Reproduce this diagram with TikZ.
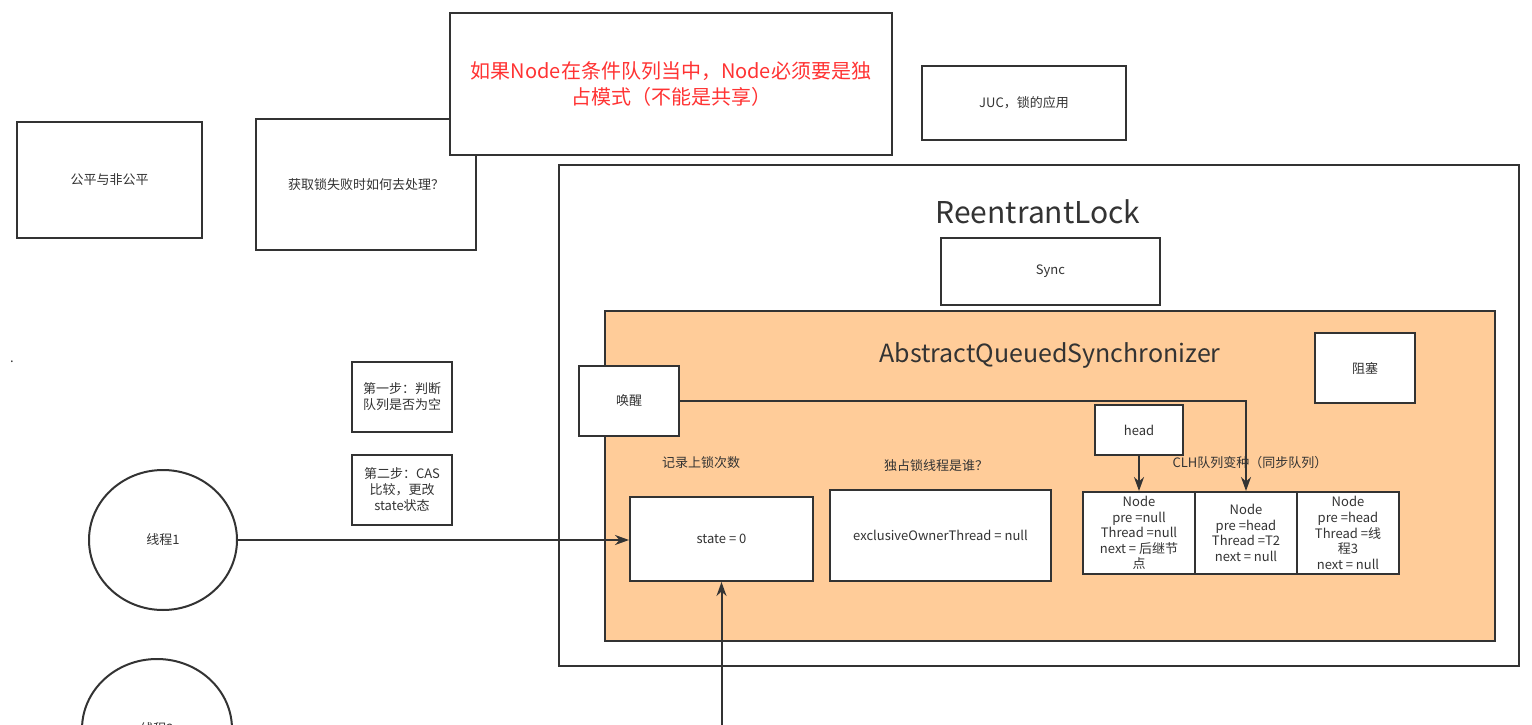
\documentclass[tikz,border=0pt]{standalone}
\usepackage{fontspec}
\setmainfont{Noto Sans CJK SC}
\usepackage{tikz}
\usetikzlibrary{arrows.meta,positioning,shapes.geometric}
\definecolor{dnden}{HTML}{333333}
\definecolor{dncam}{HTML}{FFCC99}
\definecolor{dndo}{HTML}{FF3333}
\def\mauvien{dnden}
\def\maunen{dncam}
\def\maunhan{dndo}

\begin{document}
\begin{tikzpicture}[x=1pt,y=-1pt]
		\tikzstyle{hop} = [draw=\mauvien,line width=2pt,fill=white,text=\mauvien,align=center,inner sep=1pt,font=\fontsize{13}{16}\selectfont]
		\tikzstyle{nutstyle} = [hop,inner sep=0pt,minimum height=82pt,font=\fontsize{13}{15.6}\selectfont]
		\tikzstyle{chu} = [text=\mauvien,align=center,font=\fontsize{13}{16}\selectfont]
		\tikzstyle{linestyle} = [->,>={Stealth[length=14pt,width=10pt]},line width=2pt,\mauvien]
		\useasboundingbox (0,0) rectangle (1532,725);
		\clip (0,0) rectangle (1532,725);
		\fill[white] (0,0) rectangle (1532,725);
		% hop ben trai va ben tren
		\node[hop,minimum width=185pt,minimum height=116pt] (congbang) at (109.5,180) {公平与非公平};
		\node[hop,minimum width=220pt,minimum height=131pt] (thatbai) at (366,184.5) {获取锁失败时如何去处理？};
		\node[hop,minimum width=442pt,minimum height=141pt,text=\maunhan,font=\fontsize{20}{26}\selectfont] (dieukien) at (671,84) {如果Node在条件队列当中，Node必须要是独\\占模式（不能是共享）};
		\node[hop,minimum width=204pt,minimum height=74pt] (juc) at (1024,103) {JUC，锁的应用};
		\node[chu] (cham) at (12,362) {.};
		% ReentrantLock
		\node[hop,minimum width=960pt,minimum height=501pt] (reentrant) at (1039,415.5) {};
		\node[chu,font=\fontsize{30}{34}\selectfont] (tenreentrant) at (1038,212) {ReentrantLock};
		\node[hop,minimum width=219pt,minimum height=67pt] (sync) at (1050.5,271.5) {Sync};
		% AQS
		\node[hop,fill=\maunen,minimum width=890pt,minimum height=330pt] (aqs) at (1050,476) {};
		\node[chu,font=\fontsize{25}{28}\selectfont] (tenaqs) at (1050,355) {AbstractQueuedSynchronizer};
		\node[hop,minimum width=100pt,minimum height=70pt] (chan) at (1365,368) {阻塞};
		\node[hop,minimum width=100pt,minimum height=70pt] (danhthuc) at (629,401) {唤醒};
		\node[hop,minimum width=88pt,minimum height=50pt] (head) at (1139,430) {head};
		\node[chu] (ghichu1) at (701,463) {记录上锁次数};
		\node[chu] (ghichu2) at (936,466) {独占锁线程是谁？};
		\node[chu] (ghichu3) at (1250,463) {CLH队列变种（同步队列）};
		\node[hop,minimum width=183pt,minimum height=84pt] (state) at (721.5,539) {state = 0};
		\node[hop,minimum width=221pt,minimum height=91pt] (owner) at (940.5,535.5) {exclusiveOwnerThread = null};
		\node[nutstyle,minimum width=112pt] (node1) at (1139,533) {Node\\pre =null\\Thread =null\\next = 后继节\\点};
		\node[nutstyle,minimum width=102pt] (node2) at (1246,533) {Node\\pre =head\\Thread =T2\\next = null};
		\node[nutstyle,minimum width=102pt] (node3) at (1348,533) {Node\\pre =head\\Thread =线\\程3\\next = null};
		% cac buoc va luong
		\node[hop,minimum width=100pt,minimum height=70pt] (buoc1) at (402,397) {第一步：判断\\队列是否为空};
		\node[hop,minimum width=100pt,minimum height=70pt] (buoc2) at (402,490) {第二步：CAS\\比较，更改\\state状态};
		\node[hop,ellipse,minimum width=148pt,minimum height=140pt] (luong1) at (163,540) {线程1};
		\node[hop,ellipse,minimum width=150pt,minimum height=140pt] (luong2) at (157,729) {线程2};
		\coordinate (nguon) at (721.5,745);
		% mui ten
		\draw[linestyle] (luong1.east) -- (luong1.east -| state.west);
		\draw[linestyle] (nguon) -- (state.south);
		\draw[linestyle] (danhthuc.east) -| (node2.north);
		\draw[linestyle] (head.south) -- (node1.north);
	\end{tikzpicture}
\end{document}
